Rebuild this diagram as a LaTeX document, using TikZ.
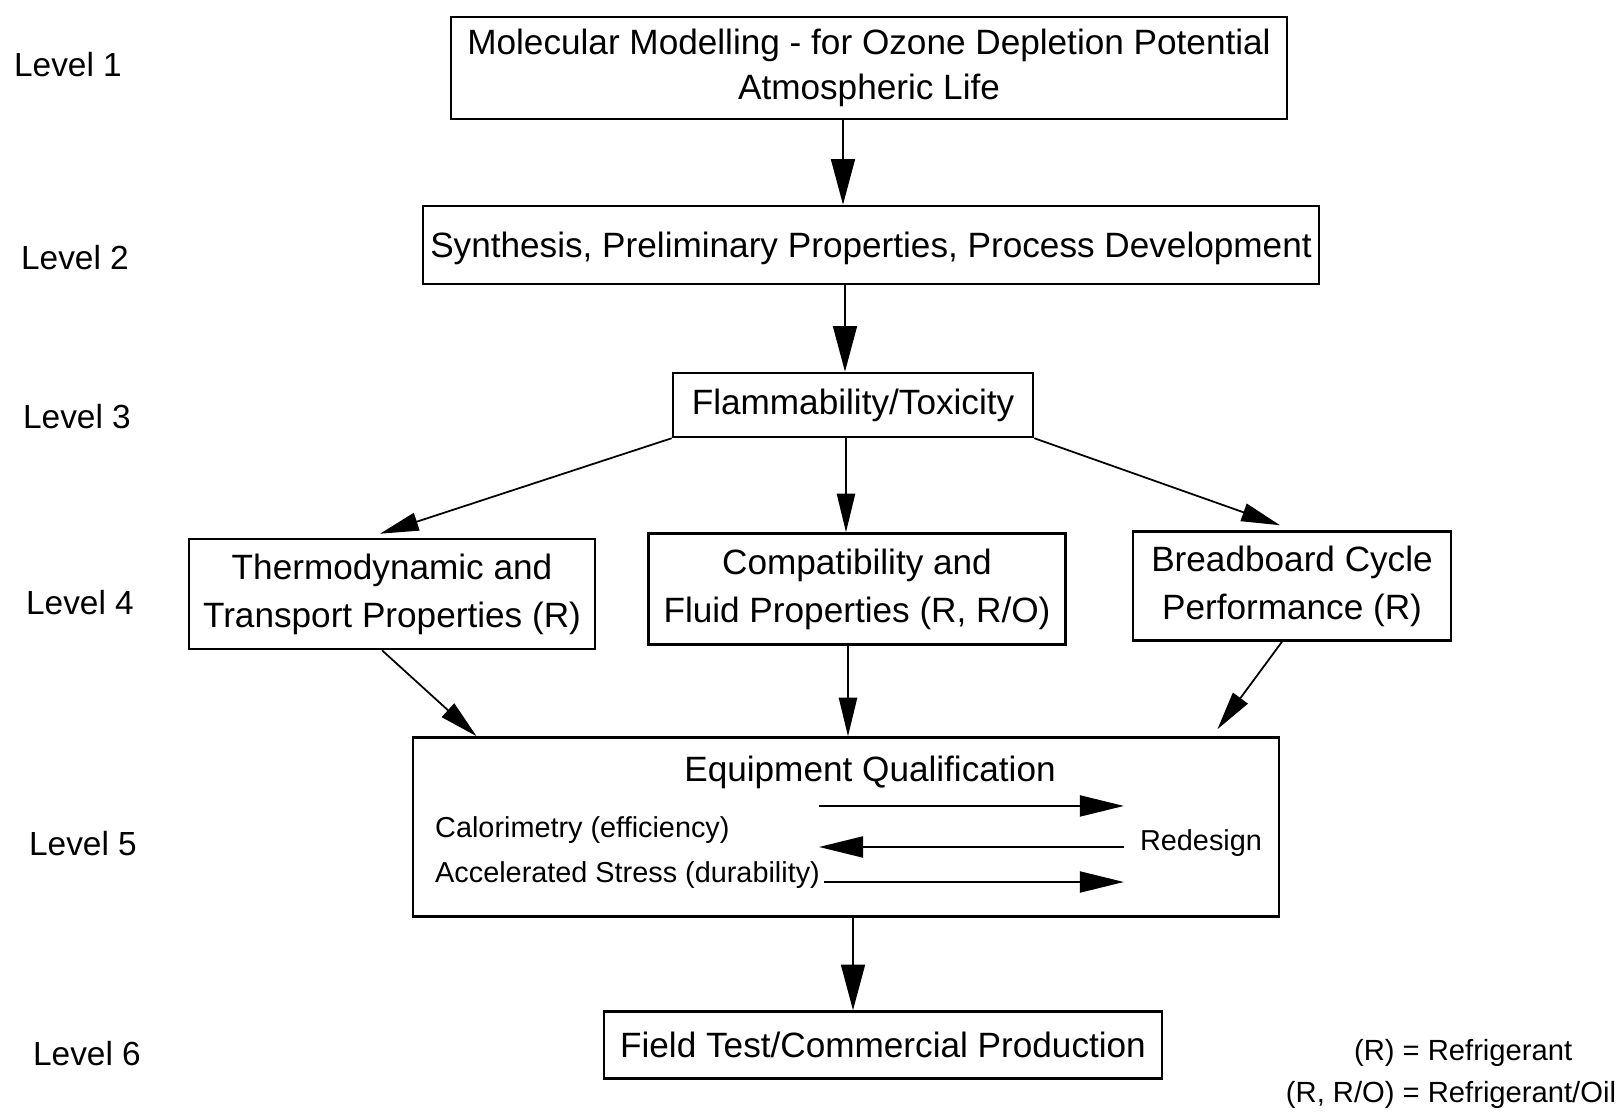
\documentclass[tikz,border=0pt]{standalone}
\usepackage{fontspec}
\setmainfont{Liberation Sans}
\usetikzlibrary{arrows.meta}

\tikzset{
  stagebox/.style={draw, line width=0.7pt, align=center, inner sep=0pt,
    font=\fontsize{10}{13}\selectfont},
  widebox/.style={stagebox, font=\fontsize{10}{13.6}\selectfont},
  levellabel/.style={font=\fontsize{9.5}{11}\selectfont},
  smalltext/.style={font=\fontsize{8.2}{10}\selectfont, inner sep=1pt},
  bigtip/.style={-{Triangle[length=13pt,width=6.8pt]}, line width=0.6pt},
  smalltip/.style={-{Triangle[length=11pt,width=5.2pt]}, line width=0.5pt},
  looptip/.style={-{Triangle[length=12.5pt,width=6pt]}, line width=0.5pt},
}

\begin{document}
\begin{tikzpicture}[x=0.01cm, y=-0.01cm]
        \useasboundingbox (0,0) rectangle (1621,1113);
        % levels
        \node[levellabel] (lev1) at (68,65) {Level 1};
        \node[levellabel] (lev2) at (75,258) {Level 2};
        \node[levellabel] (lev3) at (77,417) {Level 3};
        \node[levellabel] (lev4) at (80,603) {Level 4};
        \node[levellabel] (lev5) at (83,844) {Level 5};
        \node[levellabel] (lev6) at (87,1054) {Level 6};
        % boxes
        \node[stagebox, minimum width=8.35cm, minimum height=1.02cm] (model) at (869,68)
            {Molecular Modelling - for Ozone Depletion Potential\\Atmospheric Life};
        \node[stagebox, minimum width=8.95cm, minimum height=0.78cm, text depth=0pt] (synth) at (871,245)
            {Synthesis, Preliminary Properties, Process Development};
        \node[stagebox, minimum width=3.6cm, minimum height=0.64cm] (flam) at (853,405)
            {Flammability/Toxicity};
        \node[widebox, minimum width=4.06cm, minimum height=1.1cm] (thermo) at (392,594)
            {Thermodynamic and\\Transport Properties (R)};
        \node[widebox, minimum width=4.17cm, minimum height=1.11cm] (compat) at (857,589)
            {Compatibility and\\Fluid Properties (R, R/O)};
        \node[widebox, minimum width=3.18cm, minimum height=1.09cm] (bread) at (1292,586)
            {Breadboard Cycle\\Performance (R)};
        \node[stagebox, minimum width=8.66cm, minimum height=1.79cm] (equip) at (846,827) {};
        \node[stagebox, minimum width=5.58cm, minimum height=0.67cm] (field) at (883,1045)
            {Field Test/Commercial Production};
        % inside level 5
        \node[font=\fontsize{10}{12}\selectfont] (eqtitle) at (870,772) {Equipment Qualification};
        \node[smalltext, anchor=west] (calo) at (431,830) {Calorimetry (efficiency)};
        \node[smalltext, anchor=west] (accel) at (431,875) {Accelerated Stress (durability)};
        \node[smalltext] (redesign) at (1201,843) {Redesign};
        \draw[looptip] ([yshift=0.69cm,xshift=-0.05cm]accel.east) -- ([yshift=0.69cm,xshift=-0.12cm]accel.east -| redesign.west);
        \draw[looptip] ([yshift=0.28cm,xshift=-0.12cm]accel.east -| redesign.west) -- ([yshift=0.28cm,xshift=-0.05cm]accel.east);
        \draw[looptip] ([yshift=-0.07cm]accel.east) -- ([yshift=-0.07cm,xshift=-0.12cm]accel.east -| redesign.west);
        % connectors
        \draw[bigtip] ([xshift=-0.26cm]model.south) -- ([xshift=-0.26cm]model.south |- synth.north);
        \draw[bigtip] ([xshift=-0.26cm]synth.south) -- ([xshift=-0.26cm]synth.south |- flam.north);
        \draw[smalltip] (flam.south west) -- ([xshift=-0.12cm,yshift=0.04cm]thermo.north);
        \draw[smalltip] ([xshift=-0.07cm]flam.south) -- ([xshift=-0.07cm]flam.south |- compat.north);
        \draw[smalltip] (flam.south east) -- ([xshift=-0.12cm,yshift=0.05cm]bread.north);
        \draw[smalltip] ([xshift=-0.1cm]thermo.south) -- ([xshift=0.65cm]equip.north west);
        \draw[smalltip] ([xshift=-0.09cm]compat.south) -- ([xshift=-0.09cm]compat.south |- equip.north);
        \draw[smalltip] ([xshift=-0.1cm]bread.south) -- ([xshift=-0.63cm,yshift=0.07cm]equip.north east);
        \draw[bigtip] ([xshift=0.07cm]equip.south) -- ([xshift=0.07cm]equip.south |- field.north);
        % key
        \node[font=\fontsize{8.3}{12}\selectfont, inner sep=0pt] (key) at (1451,1073)
            {\begin{tabular}{@{}r@{ = }l@{}}(R) & Refrigerant\\(R, R/O) & Refrigerant/Oil\end{tabular}};
    \end{tikzpicture}
\end{document}
